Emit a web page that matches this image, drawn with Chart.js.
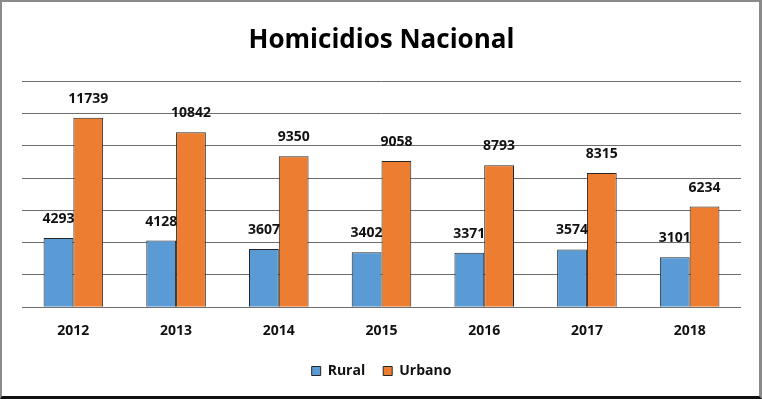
<!DOCTYPE html>
<html>
<head>
<meta charset="utf-8">
<script src="https://cdn.jsdelivr.net/npm/chart.js@4/dist/chart.umd.min.js"></script>
<style>
html,body{margin:0;padding:0;background:#fff;}
#wrap{position:relative;width:762px;height:399px;}
#c{position:absolute;left:0;top:0;}
#frame{position:absolute;left:0;top:0;width:762px;height:399px;box-sizing:border-box;
  border-left:2px solid #8a8a8a;border-top:2px solid #8a8a8a;border-right:3px solid #8a8a8a;border-bottom:3px solid #111;pointer-events:none;}
</style>
</head>
<body>
<div id="wrap"><canvas id="c" width="762" height="399"></canvas><div id="frame"></div></div>
<script>
const title = "Homicidios Nacional";
const years = ["2012","2013","2014","2015","2016","2017","2018"];
const rural = [4293,4128,3607,3402,3371,3574,3101];
const urbano = [11739,10842,9350,9058,8793,8315,6234];
const seriesNames = ["Rural","Urbano"];

const FONT = "'Open Sans', 'DejaVu Sans', sans-serif";

const valueLabels = {
  id: 'valueLabels',
  afterDatasetsDraw(chart) {
    const ctx = chart.ctx;
    ctx.save();
    ctx.font = "bold 14px " + FONT;
    ctx.fillStyle = "#111";
    ctx.textAlign = "center";
    ctx.textBaseline = "middle";
    chart.data.datasets.forEach((ds, i) => {
      const meta = chart.getDatasetMeta(i);
      meta.data.forEach((el, j) => {
        ctx.fillText(String(ds.data[j]), el.x, el.y - 19);
      });
    });
    ctx.restore();
  }
};

new Chart(document.getElementById('c'), {
  type: 'bar',
  data: {
    labels: years,
    datasets: [
      {label: seriesNames[0], data: rural, backgroundColor: '#5b9bd5', borderColor: '#262626', borderWidth: 1},
      {label: seriesNames[1], data: urbano, backgroundColor: '#ed7d31', borderColor: '#262626', borderWidth: 1}
    ]
  },
  options: {
    responsive: false,
    animation: false,
    devicePixelRatio: 1,
    layout: {padding: {left: 22, right: 21, top: 25, bottom: 11}},
    datasets: {bar: {categoryPercentage: 0.58, barPercentage: 1.0}},
    plugins: {
      title: {display: true, text: title, color: '#000', font: {family: FONT, size: 26, weight: 'bold'}, padding: {top: 0, bottom: 25}},
      legend: {position: 'bottom', labels: {color: '#111', font: {family: FONT, size: 14, weight: 'bold'}, boxWidth: 9, boxHeight: 9, padding: 18}},
      tooltip: {enabled: false}
    },
    scales: {
      x: {
        grid: {display: false},
        border: {display: false},
        ticks: {color: '#111', font: {family: FONT, size: 14, weight: 'bold'}, padding: 7}
      },
      y: {
        min: 0, max: 14000,
        ticks: {display: false, stepSize: 2000},
        grid: {color: '#6e6e6e', drawTicks: false, lineWidth: 1},
        border: {display: false}
      }
    }
  },
  plugins: [valueLabels]
});
</script>
</body>
</html>
